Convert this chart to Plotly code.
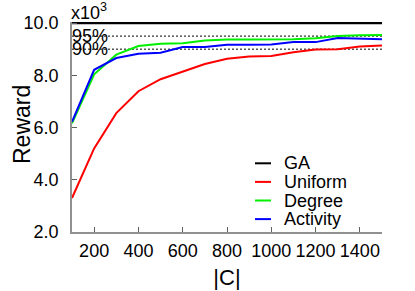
import plotly.graph_objects as go

sizes = [100, 200, 300, 400, 500, 600, 700, 800, 900, 1000, 1100, 1200, 1300, 1400, 1500]
ga_value = 10.0
uniform = [3.3, 5.2, 6.55, 7.39, 7.85, 8.15, 8.43, 8.63, 8.72, 8.74, 8.88, 8.99, 9.0, 9.1, 9.14]
degree = [6.16, 8.04, 8.79, 9.12, 9.21, 9.23, 9.33, 9.37, 9.37, 9.37, 9.38, 9.42, 9.5, 9.53, 9.54]
activity = [6.22, 8.21, 8.66, 8.82, 8.86, 9.08, 9.08, 9.17, 9.17, 9.18, 9.27, 9.27, 9.43, 9.4, 9.38]
ref_levels = [0.95, 0.90]
ref_labels = ["95%", "90%"]
y_ticks = [2.0, 4.0, 6.0, 8.0, 10.0]
x_ticks = [200, 400, 600, 800, 1000, 1200, 1400]
series_names = ["GA", "Uniform", "Degree", "Activity"]
series_colors = ["#000000", "#ff0000", "#00f000", "#0000ff"]

FONT = "Liberation Sans, Arial, sans-serif"
W, H = 415, 291
L, R, T, B = 72, 33, 22, 59
PW, PH = W - L - R, H - T - B

def px_x(p):
    return (p - L) / PW

def px_y(p):
    return (H - B - p) / PH

fig = go.Figure()

# reference dotted lines
for lvl in ref_levels:
    fig.add_trace(go.Scatter(x=[sizes[0], sizes[-1]], y=[ga_value * lvl] * 2, mode="lines",
                             line=dict(color="black", width=1, dash="2px,2px"), showlegend=False,
                             hoverinfo="skip"))

series_values = [[ga_value] * len(sizes), uniform, degree, activity]
for name, color, vals in zip(series_names, series_colors, series_values):
    fig.add_trace(go.Scatter(x=sizes, y=vals, mode="lines", name=name,
                             line=dict(color=color, width=2.5 if name == "GA" else 2),
                             showlegend=False))

# legend (compact, as in the reference)
for i, (name, color) in enumerate(zip(series_names, series_colors)):
    yc = 163.3 + 18.6 * i
    fig.add_shape(type="line", xref="paper", yref="paper",
                  x0=px_x(255), x1=px_x(271), y0=px_y(yc), y1=px_y(yc),
                  line=dict(color=color, width=2))
    fig.add_annotation(x=px_x(282), y=px_y(yc), xref="paper", yref="paper", text=name,
                       showarrow=False, xanchor="left", yanchor="middle",
                       font=dict(size=18, color="black", family=FONT))

for lvl, lab in zip(ref_levels, ref_labels):
    fig.add_annotation(x=sizes[0], y=ga_value * lvl, text=lab, showarrow=False,
                       xanchor="left", yanchor="middle", xshift=-2,
                       font=dict(size=18, color="black", family=FONT))

fig.add_annotation(x=0, y=1, xref="paper", yref="paper", text="x10<sup>3</sup>",
                   showarrow=False, xanchor="left", yanchor="bottom", xshift=-3, yshift=-3,
                   font=dict(size=18, color="black", family=FONT))

# y axis title
fig.add_annotation(x=px_x(22), y=px_y(125), xref="paper", yref="paper", text="Reward",
                   showarrow=False, textangle=-90, xanchor="center", yanchor="middle",
                   font=dict(size=23, color="black", family=FONT))

fig.update_layout(
    width=W, height=H,
    margin=dict(l=L, r=R, t=T, b=B, autoexpand=False),
    paper_bgcolor="white", plot_bgcolor="white",
    font=dict(family=FONT, size=18, color="black"),
    showlegend=False,
    xaxis=dict(range=[sizes[0], sizes[-1]], tickvals=x_ticks, ticks="inside", ticklen=5,
               tickcolor="#606060", showline=True, linecolor="#909090", linewidth=1.5,
               showgrid=False, zeroline=False, tickfont=dict(size=18),
               ticklabelstandoff=2, automargin=False,
               title=dict(text="|C|", font=dict(size=22), standoff=9)),
    yaxis=dict(range=[2.0, 10.04], tickvals=y_ticks, tickformat=".1f", ticks="inside", ticklen=5,
               tickcolor="#606060", showline=True, linecolor="#909090", linewidth=1.5,
               showgrid=False, zeroline=False, tickfont=dict(size=18),
               ticklabelstandoff=8, automargin=False),
)

fig.write_html("out.html", config={"displayModeBar": False},
               post_script="document.body.style.margin='0px';document.body.style.overflow='hidden';")
